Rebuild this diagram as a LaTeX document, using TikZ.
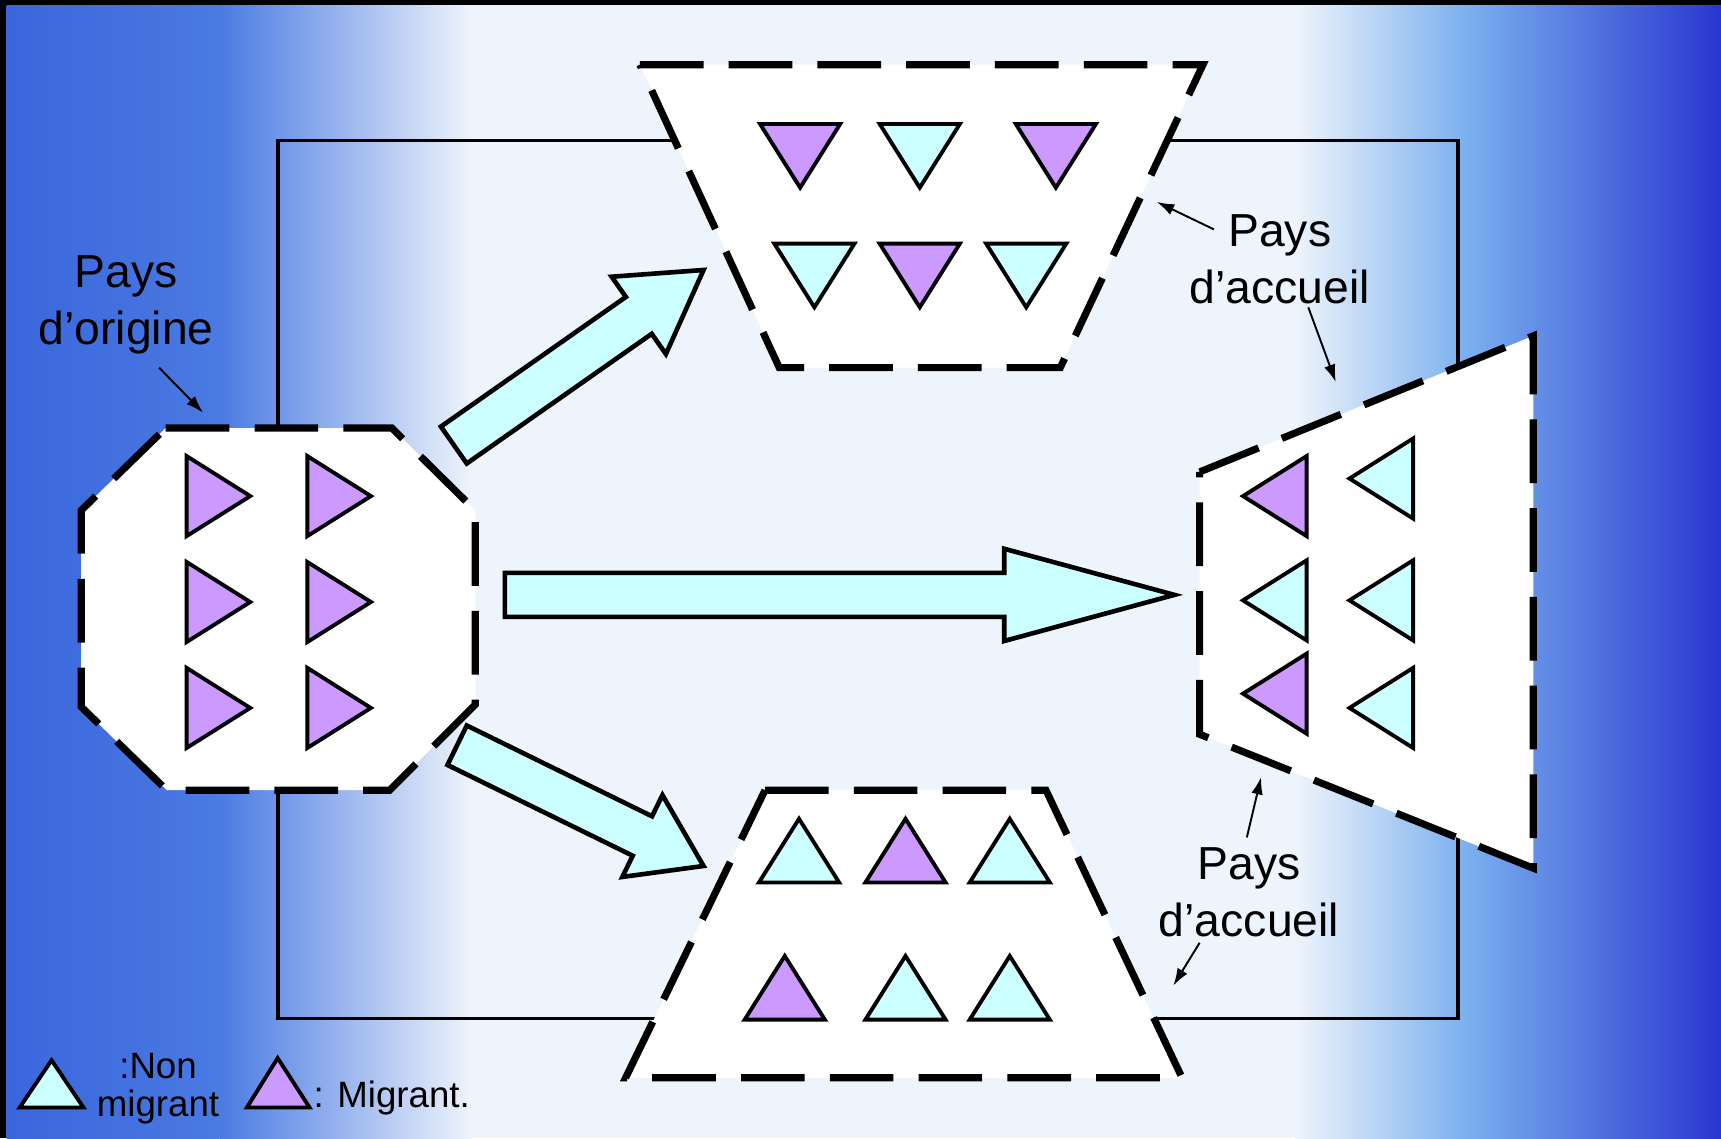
\documentclass[tikz,border=0pt]{standalone}
\usepackage{fontspec}
\setmainfont{Liberation Sans}
\usetikzlibrary{calc,arrows.meta}

\definecolor{migrant}{HTML}{CC99FF}
\definecolor{nonmig}{HTML}{CCFFFF}
\definecolor{bgleft}{HTML}{3A66DC}
\definecolor{bgmid}{HTML}{4A7AE2}
\definecolor{bgpale}{HTML}{EEF4FB}
\definecolor{bglight}{HTML}{78AEEE}
\definecolor{bgright}{HTML}{2A36D0}

% block arrow: tail, tip, half shaft, half head, head length
\newcommand{\flux}[5]{%
  \coordinate (neck) at ($(#2)!#5!(#1)$);
  \draw[flow] ($(#1)!#3!90:(#2)$) -- ($(neck)!#3!90:(#2)$)
    -- ($(neck)!#4!90:(#2)$) -- (#2) -- ($(neck)!#4!-90:(#2)$)
    -- ($(neck)!#3!-90:(#2)$) -- ($(#1)!#3!-90:(#2)$) -- cycle;}

\begin{document}
\begin{tikzpicture}[x=0.01cm,y=-0.01cm,
    country/.style={draw,fill=white,line width=1.85pt,dash pattern=on 16.5pt off 6.5pt},
    mig/.style={draw,fill=migrant,line width=1pt,line join=miter},
    non/.style={draw,fill=nonmig,line width=1pt,line join=miter},
    flow/.style={draw,fill=nonmig,line width=1.2pt,line join=miter},
    frame line/.style={draw,line width=1pt},
    pointer/.style={-{Latex[length=4.5pt,width=3pt]},line width=0.5pt},
    lbl/.style={font=\fontsize{12}{14.8}\selectfont,align=center,inner sep=0pt},
    legend/.style={font=\fontsize{9.5}{10}\selectfont,align=center,inner sep=0pt},
    pics/pion/.style={code={\draw[#1] (-29,-36.5) -- (29,0) -- (-29,36.5) -- cycle;}}]

  % background
  \useasboundingbox (0,0) rectangle (1568,1037);
  \fill[black] (0,0) rectangle (1568,1037);
  \shade[left color=bgleft,right color=bgmid] (6,5) rectangle (200,1037);
  \shade[left color=bgmid,right color=bgpale] (200,5) rectangle (430,1037);
  \fill[bgpale] (430,5) rectangle (1180,1037);
  \shade[left color=bgpale,right color=bglight] (1180,5) rectangle (1340,1037);
  \shade[left color=bglight,right color=bgright] (1340,5) rectangle (1568,1037);

  \draw[frame line] (253,128) rectangle (1328,928);

  % countries
  \draw[country] (151,390) -- (357,390) -- (433,465) -- (433,642) -- (355,720)
    -- (152,720) -- (74,644) -- (74,465) -- cycle;
  \draw[country] (583,59) -- (1096,59) -- (966,335) -- (710,335) -- cycle;
  \draw[country] (1093,430) -- (1397,306) -- (1397,791) -- (1093,669) -- cycle;
  \draw[country] (697,720) -- (953,720) -- (1077,982) -- (570,982) -- cycle;

  % people
  \foreach \x in {199,309}
    \foreach \y in {452,548.5,645}
      \pic at (\x,\y) {pion=mig};
  \foreach \x/\y/\s in {729/142/mig,838/142/non,962/142/mig,742/251/non,838/251/mig,935/251/non}
    \pic[rotate=-90] at (\x,\y) {pion=\s};
  \foreach \x/\y/\s in {1161.5/452/mig,1258.5/436/non,1161.5/547/non,1258.5/547/non,1161.5/632/mig,1258.5/645/non}
    \pic[rotate=180] at (\x,\y) {pion=\s};
  \foreach \x/\y/\s in {728/775/non,825/775/mig,920/775/non,715/900/mig,825/900/non,920/900/non}
    \pic[rotate=90] at (\x,\y) {pion=\s};

  % flows
  \coordinate (o-nord) at (413.5,405.5);
  \coordinate (a-nord) at (641,246);
  \coordinate (o-est) at (460,542);
  \coordinate (a-est) at (1070,542);
  \coordinate (o-sud) at (416.5,679);
  \coordinate (a-sud) at (641,789);
  \flux{o-nord}{a-nord}{0.205cm}{0.43cm}{0.72cm}
  \flux{o-est}{a-est}{0.2cm}{0.42cm}{1.55cm}
  \flux{o-sud}{a-sud}{0.2cm}{0.415cm}{0.62cm}

  % labels
  \node[lbl] (origin) at (115,278) {Pays\\d’origine};
  \node[lbl] (host1) at (1166,236) {Pays\\d’accueil};
  \node[lbl] (host2) at (1138,813) {Pays\\d’accueil};

  \coordinate (po1) at (145,335);  \coordinate (po2) at (185,376);
  \coordinate (pa1) at (1106,209); \coordinate (pa2) at (1054,184);
  \coordinate (pa3) at (1192,280); \coordinate (pa4) at (1217,348);
  \coordinate (pb1) at (1136,763); \coordinate (pb2) at (1149,708);
  \coordinate (pb3) at (1093,859); \coordinate (pb4) at (1069,898);
  \draw[pointer] (po1) -- (po2);
  \draw[pointer] (pa1) -- (pa2);
  \draw[pointer] (pa3) -- (pa4);
  \draw[pointer] (pb1) -- (pb2);
  \draw[pointer] (pb3) -- (pb4);

  % legend
  \draw[non] (18,1009) -- (47,966) -- (76,1009) -- cycle;
  \node[legend] (nonmigrant) at (144,992) {:Non\\migrant};
  \draw[mig] (225,1009) -- (253,964) -- (282,1009) -- cycle;
  \node[legend,anchor=west] (migrant) at (285,1000) {: Migrant.};
\end{tikzpicture}
\end{document}
